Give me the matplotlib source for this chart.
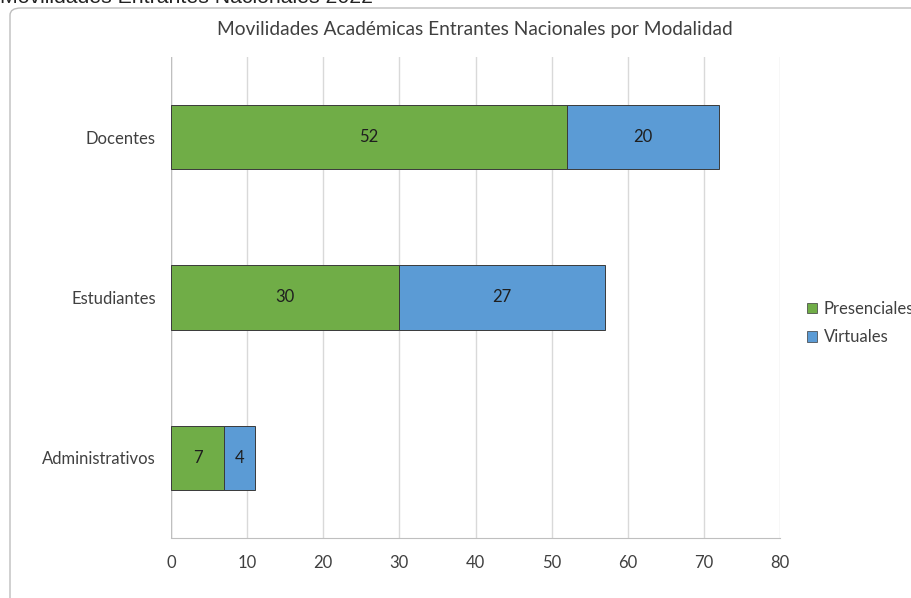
import matplotlib
matplotlib.use("Agg")
import matplotlib.pyplot as plt
from matplotlib.patches import FancyBboxPatch, Patch

categories = ["Docentes", "Estudiantes", "Administrativos"]
presenciales = [52, 30, 7]
virtuales = [20, 27, 4]
xticks = [0, 10, 20, 30, 40, 50, 60, 70, 80]

W, H = 911, 598
fig = plt.figure(figsize=(W / 100, H / 100), dpi=100)
plt.rcParams['font.family'] = ['Lato', 'DejaVu Sans']

def fx(px):
    return px / W

def fy(py):
    return 1 - py / H

# card border
card = FancyBboxPatch((fx(10), fy(640)), fx(960) - fx(10), fy(8) - fy(640),
                      boxstyle="round,pad=0,rounding_size=0.012",
                      transform=fig.transFigure, facecolor="white",
                      edgecolor="#BDBDBD", linewidth=1.0, zorder=-5)
fig.patches.append(card)

# clipped page heading
fig.text(fx(0), fy(3), "Movilidades Entrantes Nacionales 2022", fontsize=15.3,
         family=['Liberation Sans', 'DejaVu Sans'], color="#222222",
         ha="left", va="baseline")

ax = fig.add_axes([fx(171), fy(538), fx(780) - fx(171), fy(57) - fy(538)])
ax.set_facecolor("none")

y = list(range(len(categories)))
green = "#70AD47"
blue = "#5B9BD5"
b1 = ax.barh(y, presenciales, height=0.4, color=green, edgecolor="#3a3a3a",
             linewidth=0.7, zorder=3, label="Presenciales")
b2 = ax.barh(y, virtuales, left=presenciales, height=0.4, color=blue,
             edgecolor="#3a3a3a", linewidth=0.7, zorder=3, label="Virtuales")
for bars, vals in ((b1, presenciales), (b2, virtuales)):
    ax.bar_label(bars, labels=[str(v) for v in vals], label_type="center",
                 fontsize=12, color="#1f1f1f")

ax.set_xlim(0, 80)
ax.set_ylim(2.5, -0.5)
ax.set_xticks(xticks)
ax.set_yticks(y)
ax.set_yticklabels(categories)
ax.tick_params(axis="both", length=0, labelsize=12, colors="#404040")
ax.tick_params(axis="x", pad=12)
ax.tick_params(axis="y", pad=11)
ax.grid(axis="x", color="#D9D9D9", linewidth=1.0, zorder=0)
for s in ("top", "right", "left"):
    ax.spines[s].set_visible(False)
ax.spines["bottom"].set_color("#BFBFBF")
ax.axvline(0, color="#BFBFBF", linewidth=1.0, zorder=2)

fig.text(fx(475), fy(30), "Movilidades Académicas Entrantes Nacionales por Modalidad",
         fontsize=13.8, color="#404040", ha="center", va="center")

handles = [Patch(facecolor=green, edgecolor="#3a3a3a", linewidth=0.5),
           Patch(facecolor=blue, edgecolor="#3a3a3a", linewidth=0.5)]
fig.legend(handles, ["Presenciales", "Virtuales"], loc="upper left",
           bbox_to_anchor=(fx(807), fy(301)), frameon=False, fontsize=12,
           handlelength=0.6, handleheight=0.6, handletextpad=0.4,
           labelspacing=0.75, labelcolor="#404040", borderaxespad=0, borderpad=0)

fig.savefig("out.png", dpi=100)
